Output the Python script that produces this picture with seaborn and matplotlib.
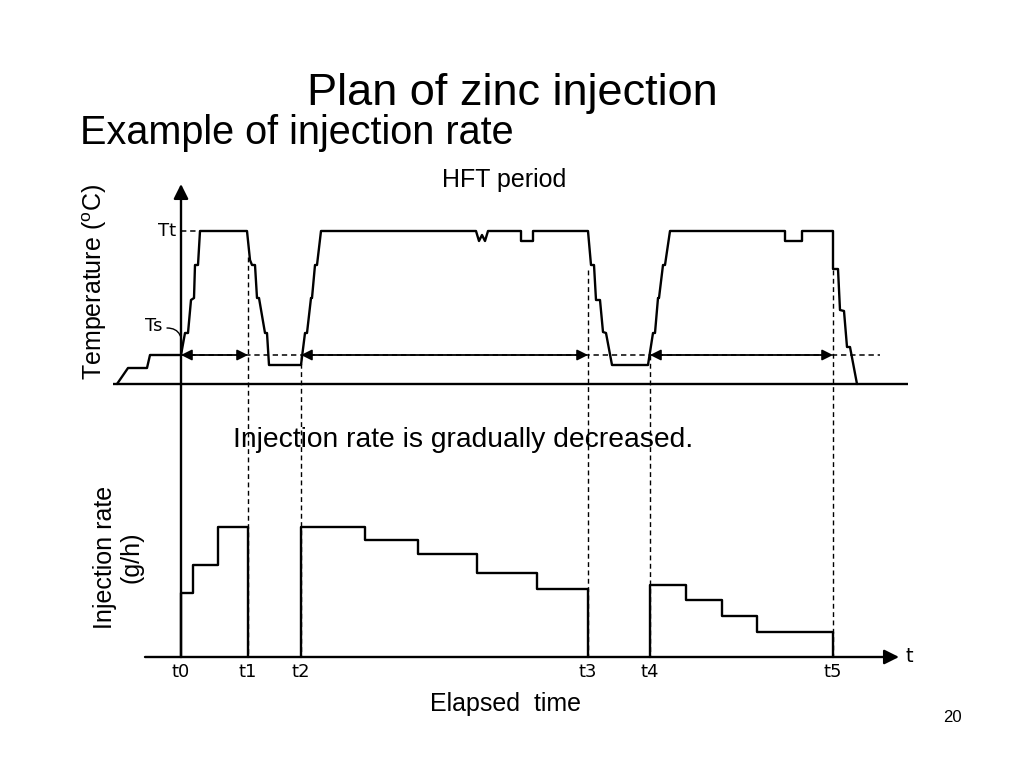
import matplotlib
matplotlib.use("Agg")
import matplotlib.pyplot as plt
import seaborn as sns

# ---------------- data (arbitrary schematic units, t0 = 0) ----------------
t_marks = [0, 67, 120, 407, 469, 652]
t_labels = ["t0", "t1", "t2", "t3", "t4", "t5"]
Tt = 153
Ts = 29

# temperature profile (time, temperature)
temp_time = [-64, -53, -34, -31, 0,
             0, 4, 7, 10, 13, 14, 17, 19,
             66, 69, 71, 74, 76, 78, 84, 86, 88,
             120, 124, 126, 130, 131, 134, 136, 140,
             295, 298, 301, 304, 307,
             340, 340, 352, 352,
             407, 410, 413, 415, 419, 422, 425, 431,
             467, 472, 474, 477, 478, 482, 484, 489,
             604, 604, 621, 621,
             652, 652, 657, 659, 663, 666, 669, 676]
temp_value = [0, 16, 16, 29, 29,
              29, 51, 51, 84, 86, 119, 119, 153,
              153, 124, 119, 119, 86, 86, 51, 51, 19,
              19, 51, 51, 86, 86, 119, 119, 153,
              153, 143, 149, 143, 153,
              153, 143, 143, 153,
              153, 119, 119, 84, 84, 52, 51, 19,
              19, 51, 51, 86, 86, 119, 119, 153,
              153, 143, 143, 153,
              153, 115, 115, 74, 73, 37, 37, 0]

# injection rate steps per injection period
inj1_edges = [0, 12, 37, 67]
inj1_rates = [64, 92, 130]
inj2_edges = [120, 184, 237, 296, 356, 407]
inj2_rates = [130, 117, 103, 84, 68]
inj3_edges = [469, 505, 541, 576, 652]
inj3_rates = [72, 57, 41, 25]

# dashed guide start levels (temperature units) for t1..t5
guide_start = [127, 29, 114, 29, 114]

# ---------------- figure ----------------
sns.set_theme(style="white")
plt.rcParams["font.family"] = ["Liberation Sans", "DejaVu Sans"]
plt.rcParams["text.color"] = "black"
plt.rcParams["mathtext.fontset"] = "custom"
plt.rcParams["mathtext.rm"] = "Liberation Sans"

W, H = 1024, 768
fig = plt.figure(figsize=(10.24, 7.68), dpi=100)
fig.patch.set_facecolor("white")

# pixel anchors of the two coordinate systems
x0_px = 181
top_base_px = 384
bot_base_px = 657

ax_top = fig.add_axes([0, 0, 1, 1])
ax_bot = fig.add_axes([0, 0, 1, 1])
for ax in (ax_top, ax_bot):
    ax.set_xlim(-x0_px, W - x0_px)
    ax.set_axis_off()
    ax.patch.set_alpha(0)
ax_top.set_ylim(top_base_px - H, top_base_px)
ax_bot.set_ylim(bot_base_px - H, bot_base_px)

lw = 1.7
black = "black"

# temperature curve
sns.lineplot(x=temp_time, y=temp_value, sort=False, estimator=None,
             color=black, lw=lw, ax=ax_top)

# top baseline
ax_top.hlines(0, -68, 727, color=black, lw=lw)
# vertical axis with arrow (spans both panels)
bot_in_top = -(bot_base_px - top_base_px)
ax_top.annotate("", xy=(0, top_base_px - 184), xytext=(0, bot_in_top),
                arrowprops=dict(arrowstyle="-|>", color=black, lw=lw,
                                mutation_scale=22, shrinkA=0, shrinkB=0))

# Ts dashed level and Tt short dashed
ax_top.hlines(Ts, 0, 699, color=black, lw=1.1, linestyles=(0, (3.5, 2.5)))
ax_top.hlines(Tt, 0, 17, color=black, lw=1.1, linestyles=(0, (3.5, 2.5)))

# double-headed arrows for HFT periods
for a, b in [(t_marks[0], t_marks[1]), (t_marks[2], t_marks[3]), (t_marks[4], t_marks[5])]:
    ax_top.annotate("", xy=(b, Ts), xytext=(a, Ts),
                    arrowprops=dict(arrowstyle="<|-|>", color=black, lw=1.3,
                                    mutation_scale=16, shrinkA=0, shrinkB=0))

# vertical dashed guides
for t, s in zip(t_marks[1:], guide_start):
    ax_top.plot([t, t], [s, bot_in_top], color=black, lw=1.0, ls=(0, (3.5, 2.5)))

# Tt / Ts labels
ax_top.text(-14, Tt, "Tt", fontsize=13, family="DejaVu Sans", ha="center", va="center")
ax_top.text(-27, top_base_px - 326, "Ts", fontsize=13, family="DejaVu Sans",
            ha="center", va="center")
ax_top.annotate("", xy=(0, Ts), xytext=(-14, top_base_px - 328),
                arrowprops=dict(arrowstyle="-", color=black, lw=1.0,
                                connectionstyle="angle3,angleA=0,angleB=80",
                                shrinkA=0, shrinkB=0))

# injection rate step curves
for edges, rates in [(inj1_edges, inj1_rates), (inj2_edges, inj2_rates), (inj3_edges, inj3_rates)]:
    xs = [edges[0]]
    ys = [0]
    for i, r in enumerate(rates):
        xs += [edges[i], edges[i + 1]]
        ys += [r, r]
    xs.append(edges[-1])
    ys.append(0)
    sns.lineplot(x=xs, y=ys, sort=False, estimator=None, color=black, lw=lw, ax=ax_bot)

# bottom time axis with arrow
ax_bot.annotate("", xy=(718, 0), xytext=(-36, 0),
                arrowprops=dict(arrowstyle="-|>", color=black, lw=lw,
                                mutation_scale=22, shrinkA=0, shrinkB=0))
ax_bot.text(724, 1, "t", fontsize=14, family="DejaVu Sans", ha="left", va="center")

# tick labels
for t, lab in zip(t_marks, t_labels):
    ax_bot.text(t, -15, lab, fontsize=13, family="DejaVu Sans", ha="center", va="center")

# ---------------- texts ----------------
def ft(x, y, s, **kw):
    fig.text(x / W, 1 - y / H, s, color="black", **kw)

ft(512, 93, "Plan of zinc injection", fontsize=32.5, ha="center", va="center")
ft(80, 133, "Example of injection rate", fontsize=28.5, ha="left", va="center")
ft(504, 180, "HFT period", fontsize=18, ha="center", va="center")
ft(463, 440, "Injection rate is gradually decreased.", fontsize=20.3, ha="center", va="center")
ft(505, 704, "Elapsed  time", fontsize=18, ha="center", va="center")
ft(95, 282, r"Temperature ($\mathrm{^{o}}$C)", fontsize=18, rotation=90, ha="center", va="center")
ft(118, 557, "Injection rate\n(g/h)", fontsize=18, rotation=90, ha="center", va="center",
   multialignment="center", linespacing=1.15)
ft(952, 718, "20", fontsize=12, ha="center", va="center")

fig.savefig("out.png", dpi=100, facecolor="white")
